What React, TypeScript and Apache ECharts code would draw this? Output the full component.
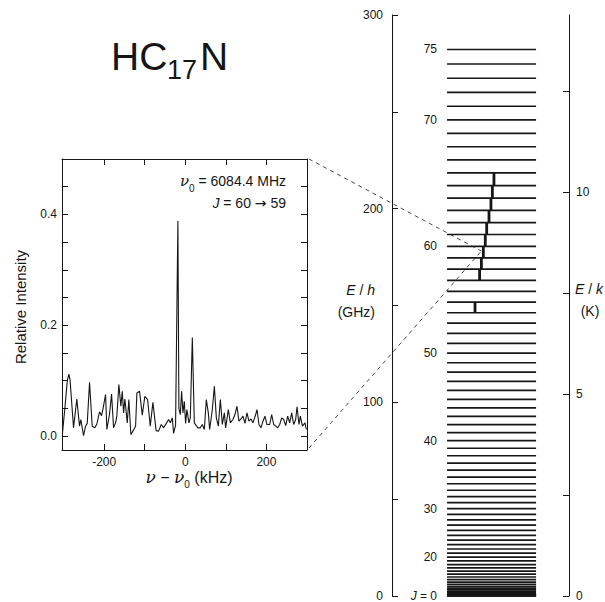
import React, { useEffect, useRef } from "react";
import * as echarts from "echarts";

// ---------- Spectrum (J = 60 -> 59 of HC17N) ----------
const specFreqKHz = [
  -303, -297, -291, -287, -284, -275.6, -267.5, -260.8, -257.6, -250.9, -246, -241.8, -236.1, -229.5,
  -223, -218, -211.4, -206.5, -203.3, -196.6, -193.4, -186.8, -181.8, -176.9, -172, -168.8, -163.8,
  -158.9, -155.4, -152.2, -149, -143.1, -139.2, -134.2, -129.3, -122.6, -119.4, -112.8, -106.1, -99.7,
  -93, -86.4, -79.9, -72, -65.9, -59.2, -53.5, -46.9, -41.2, -37, -32.1, -28.9, -24, -18.3, -15.8,
  -12.3, -9.1, -5.9, -2.5, 0.7, 4, 8.9, 12.3, 17.3, 22.2, 27.1, 31.1, 37, 41.9, 46.9, 51.8, 56.7, 60,
  66.6, 71.6, 76.5, 81.4, 86.4, 91.3, 96.2, 99.4, 106.1, 111, 117.4, 122.4, 127.3, 132.2, 137.2, 142.1,
  147.1, 152, 156.9, 161.9, 166.8, 173.5, 176.7, 181.6, 186.5, 191.5, 196.4, 201.3, 208, 212.9, 217.9,
  222.8, 227.7, 232.7, 237.6, 242.5, 247.5, 252.4, 257.3, 262.3, 267.2, 272.1, 275.4, 280.3, 283.7,
  288.7, 295.1, 298.5,
];
const specIntensity = [
  0.004, 0.05, 0.1, 0.112, 0.1, 0.015, 0.067, 0.018, 0.03, 0.001, 0.018, 0.023, 0.097, 0.018,
  0.015, 0.022, 0.044, 0.037, 0.048, 0.075, 0.012, 0.04, 0.076, 0.015, 0.024, 0.036, 0.093,
  0.054, 0.081, 0.042, 0.067, 0.024, 0.066, 0.003, 0.009, 0.018, 0.078, 0.081, 0.038, 0.072,
  0.066, 0.018, 0.061, 0.01, 0.009, 0.021, 0.015, 0.023, 0.03, 0.024, 0.033, 0.005, 0.02, 0.388, 0.05,
  0.039, 0.081, 0.042, 0.063, 0.023, 0.048, 0.024, 0.033, 0.178, 0.024, 0.019, 0.015, 0.015, 0.021, 0.012, 0.066, 0.042, 0.012,
  0.048, 0.09, 0.033, 0.018, 0.066, 0.021, 0.042, 0.015, 0.048, 0.024, 0.03, 0.039, 0.054, 0.027, 0.031, 0.036,
  0.023, 0.042, 0.027, 0.031, 0.024, 0.039, 0.048, 0.021, 0.015, 0.027, 0.036, 0.021, 0.021, 0.039, 0.021,
  0.018, 0.015, 0.021, 0.033, 0.03, 0.019, 0.036, 0.024, 0.042, 0.021, 0.03, 0.053, 0.021, 0.036,
  0.018, 0.024, 0.012,
];

const specXTicks = [-200, -100, 0, 100, 200];
const specXLabels = [-200, 0, 200];
const specYTicks = [0, 0.05, 0.1, 0.15, 0.2, 0.25, 0.3, 0.35, 0.4, 0.45];
const specYLabels = [0, 0.2, 0.4];
const SPEC_X_MIN = -304;
const SPEC_X_MAX = 300;
const SPEC_Y_MIN = -0.025;
const SPEC_Y_MAX = 0.5;

// ---------- Rotational energy ladder ----------
const levelJ = Array.from({ length: 76 }, (_, i) => i);
const levelEnergyGHz = [
  0, 0.05, 0.2, 0.45, 0.8, 1.25, 1.8, 2.45, 3.2, 4.05,
  5.01, 6.06, 7.21, 8.47, 9.82, 11.27, 12.83, 14.48, 16.24, 18.09,
  20.05, 22.11, 24.26, 26.52, 28.88, 31.33, 33.89, 36.55, 39.31, 42.17,
  45.13, 48.19, 51.35, 54.61, 57.97, 61.43, 64.99, 68.66, 72.42, 76.28,
  80.24, 84.31, 88.47, 92.73, 97.1, 101.56, 106.13, 110.8, 115.56, 120.43,
  125.39, 130.46, 135.63, 140.9, 146.26, 151.73, 157.3, 162.97, 168.74, 174.61,
  180.58, 186.65, 192.82, 199.09, 205.47, 211.94, 218.51, 225.18, 231.96, 238.83,
  245.8, 252.88, 260.05, 267.33, 274.7, 282.19,
];
const labeledJ = [0, 20, 30, 40, 50, 60, 70, 75];

// observed transitions J -> J-1 (upper J, horizontal position in ladder units)
const transitionUpperJ = [55, 58, 59, 60, 61, 62, 63, 64, 65, 66];
const transitionPos = [46.9, 49.5, 50.5, 51.6, 52.7, 53.5, 54.8, 55.9, 56.7, 57.6];
const highlightedJ = 60;

const energyGHzLabels = [0, 100, 200, 300];
const energyKTicks = [0, 2.5, 5, 7.5, 10, 12.5];
const energyKLabels = [0, 5, 10];
const GHZ_TO_K = 0.047992;
const E_MAX_GHZ = 300;

// ---------- styling constants ----------
const INK = "#161616";
const SANS = "'Liberation Sans', Arial, Helvetica, sans-serif";
const SERIF = "'DejaVu Serif', 'Liberation Serif', serif";
const SYMBOL = "'DejaVu Sans', sans-serif";
const LEVEL_X0 = 31.1;
const LEVEL_X1 = 81.4;

export default function App() {
  const ref = useRef<HTMLDivElement>(null);

  useEffect(() => {
    if (!ref.current) return;
    const chart = echarts.init(ref.current, null, { renderer: "svg" });

    const axisLineStyle = { lineStyle: { color: INK, width: 1 } };
    const tickStyle = { lineStyle: { color: INK, width: 1 } };

    const option: any = {
      animation: false,
      backgroundColor: "#ffffff",
      textStyle: { fontFamily: SANS, color: INK },
      grid: [
        { left: 62, top: 159, width: 245, height: 291, containLabel: false },
        { left: 392, top: 15, width: 177, height: 583, containLabel: false },
      ],
      xAxis: [
        {
          type: "value", gridIndex: 0, position: "bottom", min: SPEC_X_MIN, max: SPEC_X_MAX,
          axisLine: { show: true, onZero: false, ...axisLineStyle },
          axisTick: { show: true, inside: true, length: 6, customValues: specXTicks, ...tickStyle },
          axisLabel: { customValues: specXLabels, margin: 6, fontSize: 12, color: INK, fontFamily: SANS },
          splitLine: { show: false },
        },
        {
          type: "value", gridIndex: 0, position: "top", min: SPEC_X_MIN, max: SPEC_X_MAX,
          axisLine: { show: true, onZero: false, ...axisLineStyle },
          axisTick: { show: true, inside: true, length: 6, customValues: specXTicks, ...tickStyle },
          axisLabel: { show: false },
          splitLine: { show: false },
        },
        {
          type: "value", gridIndex: 1, min: 0, max: 100, show: false,
          splitLine: { show: false },
        },
      ],
      yAxis: [
        {
          type: "value", gridIndex: 0, position: "left", min: SPEC_Y_MIN, max: SPEC_Y_MAX,
          axisLine: { show: true, onZero: false, ...axisLineStyle },
          axisTick: { show: true, inside: true, length: 6, customValues: specYTicks, ...tickStyle },
          axisLabel: {
            customValues: specYLabels, margin: 5, fontSize: 12, color: INK, fontFamily: SANS,
            formatter: (v: number) => v.toFixed(1),
          },
          splitLine: { show: false },
        },
        {
          type: "value", gridIndex: 0, position: "right", min: SPEC_Y_MIN, max: SPEC_Y_MAX,
          axisLine: { show: true, onZero: false, ...axisLineStyle },
          axisTick: { show: true, inside: true, length: 6, customValues: specYTicks, ...tickStyle },
          axisLabel: { show: false },
          splitLine: { show: false },
        },
        {
          type: "value", gridIndex: 1, position: "left", min: 0, max: E_MAX_GHZ, interval: 50,
          axisLine: { show: true, onZero: false, ...axisLineStyle },
          axisTick: { show: true, inside: true, length: 6, ...tickStyle },
          axisLabel: { customValues: energyGHzLabels, margin: 9, fontSize: 12, color: INK, fontFamily: SANS },
          splitLine: { show: false },
        },
        {
          type: "value", gridIndex: 1, position: "right", min: 0, max: E_MAX_GHZ * GHZ_TO_K,
          axisLine: { show: true, onZero: false, ...axisLineStyle },
          axisTick: { show: true, inside: true, length: 6, customValues: energyKTicks, ...tickStyle },
          axisLabel: { customValues: energyKLabels, margin: 7, fontSize: 12, color: INK, fontFamily: SANS },
          splitLine: { show: false },
        },
      ],
      series: [
        {
          type: "line",
          xAxisIndex: 0,
          yAxisIndex: 0,
          data: specFreqKHz.map((f, i) => [f, specIntensity[i]]),
          showSymbol: false,
          symbol: "none",
          lineStyle: { color: INK, width: 1.1 },
          clip: true,
        },
        {
          type: "custom",
          xAxisIndex: 2,
          yAxisIndex: 2,
          data: levelJ.map((j, i) => [j, levelEnergyGHz[i]]),
          renderItem: (params: any, api: any) => {
            const j = api.value(0);
            const e = api.value(1);
            const p0 = api.coord([LEVEL_X0, e]);
            const p1 = api.coord([LEVEL_X1, e]);
            const children: any[] = [
              {
                type: "line",
                shape: { x1: p0[0], y1: p0[1], x2: p1[0], y2: p1[1] },
                style: { stroke: INK, lineWidth: 1.7 },
              },
            ];
            if (labeledJ.indexOf(j) >= 0) {
              children.push({
                type: "text",
                style: {
                  text: j === 0 ? "{i|J} = 0" : String(j),
                  rich: { i: { fontStyle: "italic", fontSize: 12, fontFamily: SANS, fill: INK } },
                  x: p0[0] - 10,
                  y: p0[1],
                  align: "right",
                  verticalAlign: "middle",
                  fill: INK,
                  fontSize: 12,
                  fontFamily: SANS,
                },
              });
            }
            return { type: "group", children };
          },
        },
        {
          type: "custom",
          xAxisIndex: 2,
          yAxisIndex: 2,
          data: transitionUpperJ.map((j, i) => [transitionPos[i], levelEnergyGHz[j - 1], levelEnergyGHz[j]]),
          renderItem: (params: any, api: any) => {
            const x = api.value(0);
            const a = api.coord([x, api.value(1)]);
            const b = api.coord([x, api.value(2)]);
            return {
              type: "line",
              shape: { x1: a[0], y1: a[1], x2: b[0], y2: b[1] },
              style: { stroke: INK, lineWidth: 2.8 },
            };
          },
        },
      ],
    };

    chart.setOption(option);

    const pTop = chart.convertToPixel({ seriesIndex: 0 }, [SPEC_X_MAX, SPEC_Y_MAX]) as number[];
    const pBot = chart.convertToPixel({ seriesIndex: 0 }, [SPEC_X_MAX, SPEC_Y_MIN]) as number[];
    const k = transitionUpperJ.indexOf(highlightedJ);
    const eMid = (levelEnergyGHz[highlightedJ] + levelEnergyGHz[highlightedJ - 1]) / 2;
    const pT = chart.convertToPixel({ seriesIndex: 2 }, [transitionPos[k], eMid]) as number[];
    const tx = pT[0] - 2;
    const ty = pT[1] - 1;

    const dash = { stroke: INK, lineWidth: 0.8, lineDash: [4, 4] };
    const richItalic = { fontStyle: "italic", fontFamily: SANS, fontSize: 14, fill: INK };

    chart.setOption({
      graphic: [
        // title HC17N
        { type: "text", x: 111, y: 56, style: { text: "HC", fontSize: 39, fontFamily: SANS, fill: INK, align: "left", verticalAlign: "middle" } },
        { type: "text", x: 167, y: 70, style: { text: "17", fontSize: 27, fontFamily: SANS, fill: INK, align: "left", verticalAlign: "middle" } },
        { type: "text", x: 200, y: 56, style: { text: "N", fontSize: 39, fontFamily: SANS, fill: INK, align: "left", verticalAlign: "middle" } },
        // spectrum annotations
        {
          type: "text", x: 286, y: 181,
          style: {
            text: "{nu|ν}{sub|0}{t| = 6084.4 MHz}",
            align: "right", verticalAlign: "middle", fill: INK,
            rich: {
              nu: { fontFamily: SERIF, fontStyle: "italic", fontSize: 15, fill: INK },
              sub: { fontFamily: SANS, fontSize: 10, fill: INK, padding: [14, 0, 0, 0] },
              t: { fontFamily: SANS, fontSize: 14, fill: INK },
            },
          },
        },
        {
          type: "text", x: 286, y: 203,
          style: {
            text: "{i|J}{t| = 60 }{a|→}{t| 59}",
            align: "right", verticalAlign: "middle", fill: INK,
            rich: {
              i: richItalic,
              t: { fontFamily: SANS, fontSize: 14, fill: INK },
              a: { fontFamily: SYMBOL, fontSize: 14, fill: INK },
            },
          },
        },
        // spectrum axis names
        {
          type: "text", x: 189, y: 477,
          style: {
            text: "{nu|ν}{t| − }{nu|ν}{sub|0}{t| (kHz)}",
            align: "center", verticalAlign: "middle", fill: INK,
            rich: {
              nu: { fontFamily: SERIF, fontStyle: "italic", fontSize: 17, fill: INK },
              sub: { fontFamily: SANS, fontSize: 10, fill: INK, padding: [14, 0, 0, 0] },
              t: { fontFamily: SANS, fontSize: 16, fill: INK },
            },
          },
        },
        {
          type: "text", x: 20, y: 307, rotation: Math.PI / 2,
          style: { text: "Relative Intensity", fontSize: 15, fontFamily: SANS, fill: INK, align: "center", verticalAlign: "middle" },
        },
        // ladder axis names
        {
          type: "text", x: 375, y: 290,
          style: { text: "{i|E}{t| / }{i|h}", align: "right", verticalAlign: "middle", fill: INK, rich: { i: richItalic, t: { fontFamily: SANS, fontSize: 14, fill: INK } } },
        },
        { type: "text", x: 375, y: 312, style: { text: "(GHz)", fontSize: 14, fontFamily: SANS, fill: INK, align: "right", verticalAlign: "middle" } },
        {
          type: "text", x: 589, y: 289,
          style: { text: "{i|E}{t| / }{i|k}", align: "center", verticalAlign: "middle", fill: INK, rich: { i: richItalic, t: { fontFamily: SANS, fontSize: 14, fill: INK } } },
        },
        { type: "text", x: 590, y: 311, style: { text: "(K)", fontSize: 14, fontFamily: SANS, fill: INK, align: "center", verticalAlign: "middle" } },
        // zoom connectors
        { type: "line", shape: { x1: pTop[0] + 2, y1: pTop[1], x2: tx, y2: ty }, style: dash, silent: true },
        { type: "line", shape: { x1: pBot[0] + 2, y1: pBot[1] - 2, x2: tx, y2: ty }, style: dash, silent: true },
      ],
    });

    return () => chart.dispose();
  }, []);

  return <div ref={ref} style={{ position: "absolute", left: 0, top: 0, width: 605, height: 602 }} />;
}
